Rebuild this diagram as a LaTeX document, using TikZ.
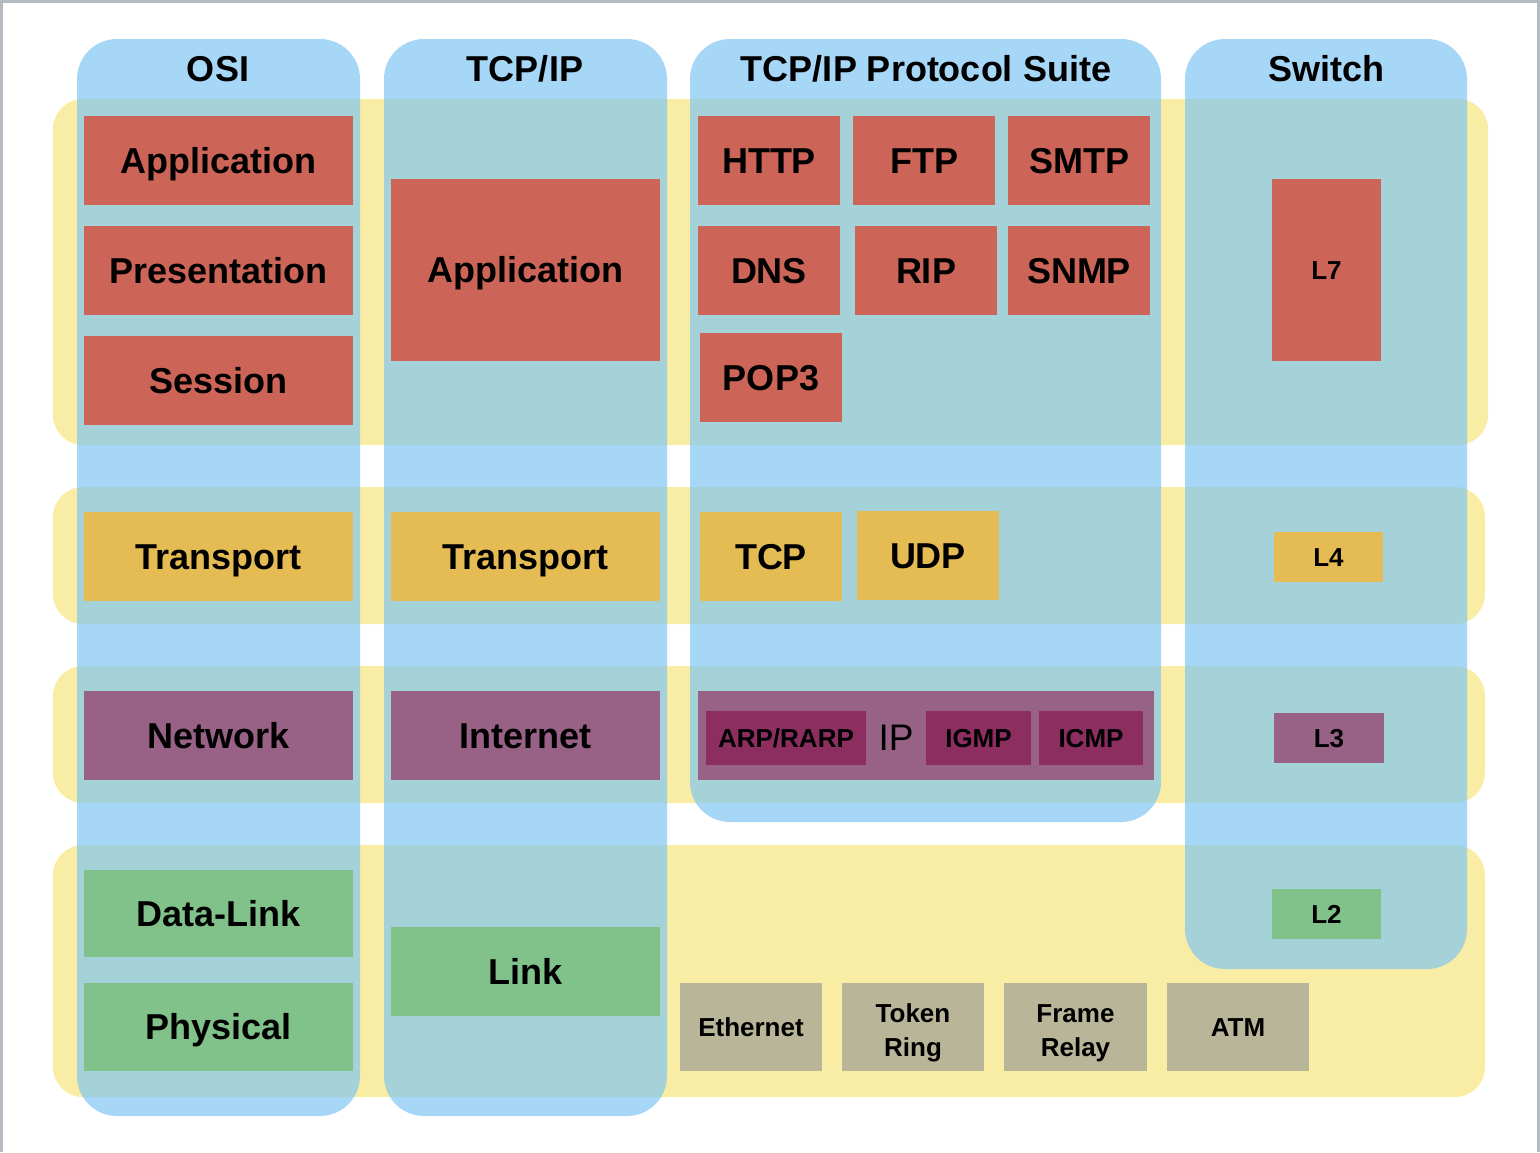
\documentclass[tikz,border=0pt]{standalone}
\usepackage{fontspec}
\setmainfont{Liberation Sans}
\usetikzlibrary{fit}
\definecolor{yel}{RGB}{249,237,165}
\definecolor{blu}{RGB}{121,194,244}
\definecolor{redbx}{RGB}{204,101,87}
\definecolor{orgbx}{RGB}{229,188,83}
\definecolor{purbx}{RGB}{152,97,134}
\definecolor{dpurbx}{RGB}{140,46,96}
\definecolor{grnbx}{RGB}{129,194,139}
\definecolor{tanbx}{RGB}{184,181,153}
\definecolor{frm}{RGB}{181,185,192}
\begin{document}
\begin{tikzpicture}[x=1pt,y=-1pt,
  yrow/.style={fill=yel, rounded corners=30pt, inner sep=0pt},
  bcol/.style={fill=blu, fill opacity=0.65, rounded corners=40pt, inner sep=0pt},
  title/.style={inner sep=0pt, font=\bfseries\fontsize{36}{40}\selectfont, anchor=base},
  sz/.style n args={2}{minimum width=#1pt, minimum height=#2pt},
  big/.style={inner sep=0pt, font=\bfseries\fontsize{36}{40}\selectfont, text height=25.8pt, text depth=0pt},
  small/.style={inner sep=0pt, font=\bfseries\fontsize{26}{34}\selectfont, text height=18.6pt, text depth=0pt},
  twoline/.style={inner sep=0pt, font=\bfseries\fontsize{26}{34}\selectfont, text height=18.6pt, text depth=27.4pt},
  rb/.style={fill=redbx},
  ob/.style={fill=orgbx},
  pb/.style={fill=purbx},
  db/.style={fill=dpurbx},
  gb/.style={fill=grnbx},
  tb/.style={fill=tanbx}
]
\useasboundingbox (0,0) rectangle (1540,1152);
\fill[white] (0,0) rectangle (1540,1152);
\draw[frm, line width=3pt] (1.5,1152) -- (1.5,1) -- (1538.5,1) -- (1538.5,1152);

% yellow rows
\node[fit={(53,99) (1488,445)}, yrow] (row7) {};
\node[fit={(53,487) (1485,624)}, yrow] (row4) {};
\node[fit={(53,666) (1485,803)}, yrow] (row3) {};
\node[fit={(53,845) (1485,1097)}, yrow] (row2) {};

% blue columns
\node[fit={(77,39) (360,1116)}, bcol] (colosi) {};
\node[fit={(384,39) (667,1116)}, bcol] (coltcp) {};
\node[fit={(690,39) (1161,822)}, bcol] (colsuite) {};
\node[fit={(1185,39) (1467,969)}, bcol] (colsw) {};

% titles
\node[title] (tosi) at (218,81) {OSI};
\node[title] (ttcp) at (525,81) {TCP/IP};
\node[title] (tsuite) at (926,81) {TCP/IP Protocol Suite};
\node[title] (tsw) at (1326,81) {Switch};

% OSI
\node[big, rb, sz={269}{89}] (oapp) at (218.5,160.5) {Application};
\node[big, rb, sz={269}{89}] (opre) at (218.5,270.5) {Presentation};
\node[big, rb, sz={269}{89}] (oses) at (218.5,380.5) {Session};
\node[big, ob, sz={269}{89}] (otra) at (218.5,556.5) {Transport};
\node[big, pb, sz={269}{89}] (onet) at (218.5,735.5) {Network};
\node[big, gb, sz={269}{87}] (odl) at (218.5,913.5) {Data-Link};
\node[big, gb, sz={269}{88}] (ophy) at (218.5,1027) {Physical};

% TCP/IP
\node[big, rb, sz={269}{182}] (tapp) at (525.5,270) {Application};
\node[big, ob, sz={269}{89}] (ttra) at (525.5,556.5) {Transport};
\node[big, pb, sz={269}{89}] (tint) at (525.5,735.5) {Internet};
\node[big, gb, sz={269}{89}] (tlink) at (525.5,971.5) {Link};

% Protocol suite
\node[big, rb, sz={142}{89}] (http) at (769,160.5) {HTTP};
\node[big, rb, sz={142}{89}] (ftp) at (924,160.5) {FTP};
\node[big, rb, sz={142}{89}] (smtp) at (1079,160.5) {SMTP};
\node[big, rb, sz={142}{89}] (dns) at (769,270.5) {DNS};
\node[big, rb, sz={142}{89}] (rip) at (926,270.5) {RIP};
\node[big, rb, sz={142}{89}] (snmp) at (1079,270.5) {SNMP};
\node[big, rb, sz={142}{89}] (pop) at (771,377.5) {POP3};
\node[big, ob, sz={142}{89}] (tcp) at (771,556.5) {TCP};
\node[big, ob, sz={142}{89}] (udp) at (928,555.5) {UDP};
\node[pb, inner sep=0pt, sz={456}{89}] (ipbox) at (926,735.5) {};
\node[inner sep=0pt, font=\fontsize{37}{40}\selectfont, text height=26.5pt, text depth=0pt] (iplbl) at (896,737) {IP};
\node[small, db, sz={160}{54}] (arp) at (786,738) {ARP/RARP};
\node[small, db, sz={105}{54}] (igmp) at (978.5,738) {IGMP};
\node[small, db, sz={104}{54}] (icmp) at (1091,738) {ICMP};

% Switch
\node[small, rb, sz={109}{182}] (l7) at (1326.5,270) {L7};
\node[small, ob, sz={109}{50}] (l4) at (1328.5,557) {L4};
\node[small, pb, sz={110}{50}] (l3) at (1329,738) {L3};
\node[small, gb, sz={109}{50}] (l2) at (1326.5,914) {L2};

% Link technologies
\node[small, tb, sz={142}{88}] (eth) at (751,1027) {Ethernet};
\node[twoline, tb, sz={142}{88}] (tok) at (913,1027) {\begin{tabular}[t]{@{}c@{}}Token\\Ring\end{tabular}};
\node[twoline, tb, sz={143}{88}] (fr) at (1075.5,1027) {\begin{tabular}[t]{@{}c@{}}Frame\\Relay\end{tabular}};
\node[small, tb, sz={142}{88}] (atm) at (1238,1027) {ATM};
\end{tikzpicture}
\end{document}
